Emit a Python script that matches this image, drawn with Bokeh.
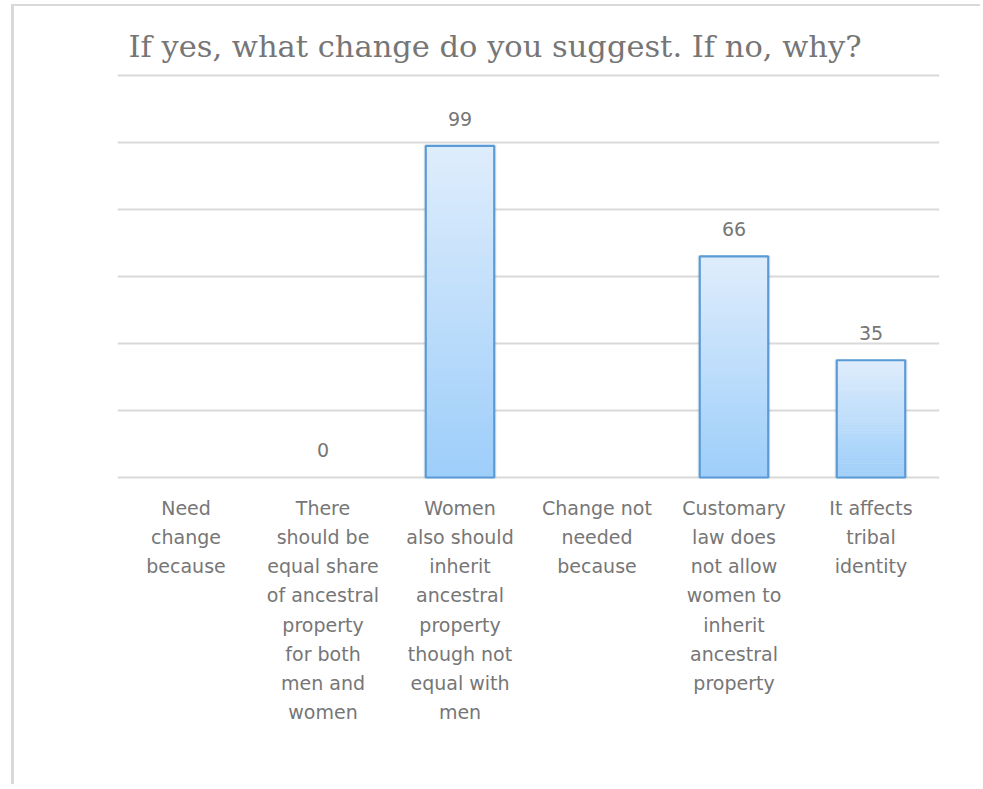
from bokeh.plotting import figure
from bokeh.models import Range1d, FixedTicker, ColumnDataSource
from bokeh.core.properties import value
from bokeh.embed import file_html
from bokeh.resources import INLINE

# ---- data ----
title_text = "If yes, what change do you suggest.  If no, why?"
categories = [
    "Need\nchange\nbecause",
    "There\nshould be\nequal share\nof ancestral\nproperty\nfor both\nmen and\nwomen",
    "Women\nalso should\ninherit\nancestral\nproperty\nthough not\nequal with\nmen",
    "Change not\nneeded\nbecause",
    "Customary\nlaw does\nnot allow\nwomen to\ninherit\nancestral\nproperty",
    "It affects\ntribal\nidentity",
]
counts = [None, 0, 99, None, 66, 35]
grid_ticks = [0, 20, 40, 60, 80, 100, 120]

# ---- style ----
TEXT_GRAY = "#767676"
GRID = "#d9d9d9"
OUTLINE = "#5b9bd5"
TOP_RGB = (0xDF, 0xED, 0xFC)
BOT_RGB = (0x9D, 0xCE, 0xFA)

p = figure(
    x_range=categories,
    y_range=Range1d(-1.2, 121.2),
    width=969, height=780,
    output_backend="svg", toolbar_location=None,
    min_border_left=103, min_border_right=44,
    min_border_top=65, min_border_bottom=305,
    title=title_text,
)
p.styles = {
    "border-left": "3px solid #d9d9d9",
    "border-top": "2px solid #d9d9d9",
    "margin-left": "11px",
    "margin-top": "4px",
}
p.outline_line_color = None
p.background_fill_color = "white"
p.border_fill_color = "white"

p.title.text_font = "DejaVu Serif"
p.title.text_font_size = "30.5px"
p.title.text_font_style = "normal"
p.title.text_color = TEXT_GRAY
p.title.offset = 11
p.title.standoff = 16

p.yaxis.visible = False
p.xgrid.grid_line_color = None
p.ygrid.ticker = FixedTicker(ticks=grid_ticks)
p.ygrid.grid_line_color = GRID
p.ygrid.grid_line_width = 2

ax = p.xaxis[0]
ax.axis_line_color = None
ax.major_tick_line_color = None
ax.minor_tick_line_color = None
ax.major_label_text_font = "DejaVu Sans"
ax.major_label_text_font_size = "19px"
ax.major_label_text_color = TEXT_GRAY
ax.major_label_text_line_height = 1.33
ax.major_label_standoff = 9
ax.major_label_orientation = "horizontal"

# ---- gradient bars (stacked strips per bar) ----
N = 60
xs, bots, tops, cols = [], [], [], []
for cat, v in zip(categories, counts):
    if v is None or v <= 0:
        continue
    for j in range(N):
        f0 = j / N
        f1 = (j + 1) / N
        t = (f0 + f1) / 2
        r = round(BOT_RGB[0] + (TOP_RGB[0] - BOT_RGB[0]) * t)
        g = round(BOT_RGB[1] + (TOP_RGB[1] - BOT_RGB[1]) * t)
        b = round(BOT_RGB[2] + (TOP_RGB[2] - BOT_RGB[2]) * t)
        xs.append(cat)
        bots.append(v * f0)
        tops.append(v * f1 + (v / N) * 0.2)
        cols.append("#%02x%02x%02x" % (r, g, b))

bar_cats = [c for c, v in zip(categories, counts) if v is not None and v > 0]
bar_vals = [v for v in counts if v is not None and v > 0]

# faint shadow
p.vbar(x=bar_cats, top=[v + 0.4 for v in bar_vals], bottom=0, width=0.535,
       fill_color="black", fill_alpha=0.06, line_color=None)
p.vbar(x=xs, bottom=bots, top=tops, width=0.5, fill_color=cols, line_color=None)
p.vbar(x=bar_cats, top=bar_vals, bottom=0, width=0.5,
       fill_color=None, line_color=OUTLINE, line_width=2.2)

# ---- data labels ----
lab_cats = [c for c, v in zip(categories, counts) if v is not None]
lab_vals = [v for v in counts if v is not None]
src = ColumnDataSource(dict(x=lab_cats, y=lab_vals, t=[str(v) for v in lab_vals]))
p.text(x="x", y="y", text="t", source=src, text_align="center",
       text_baseline="alphabetic", y_offset=-27,
       text_font=value("DejaVu Sans"), text_font_size="19px", text_color=TEXT_GRAY)

open("out.html", "w").write(file_html(p, INLINE))
